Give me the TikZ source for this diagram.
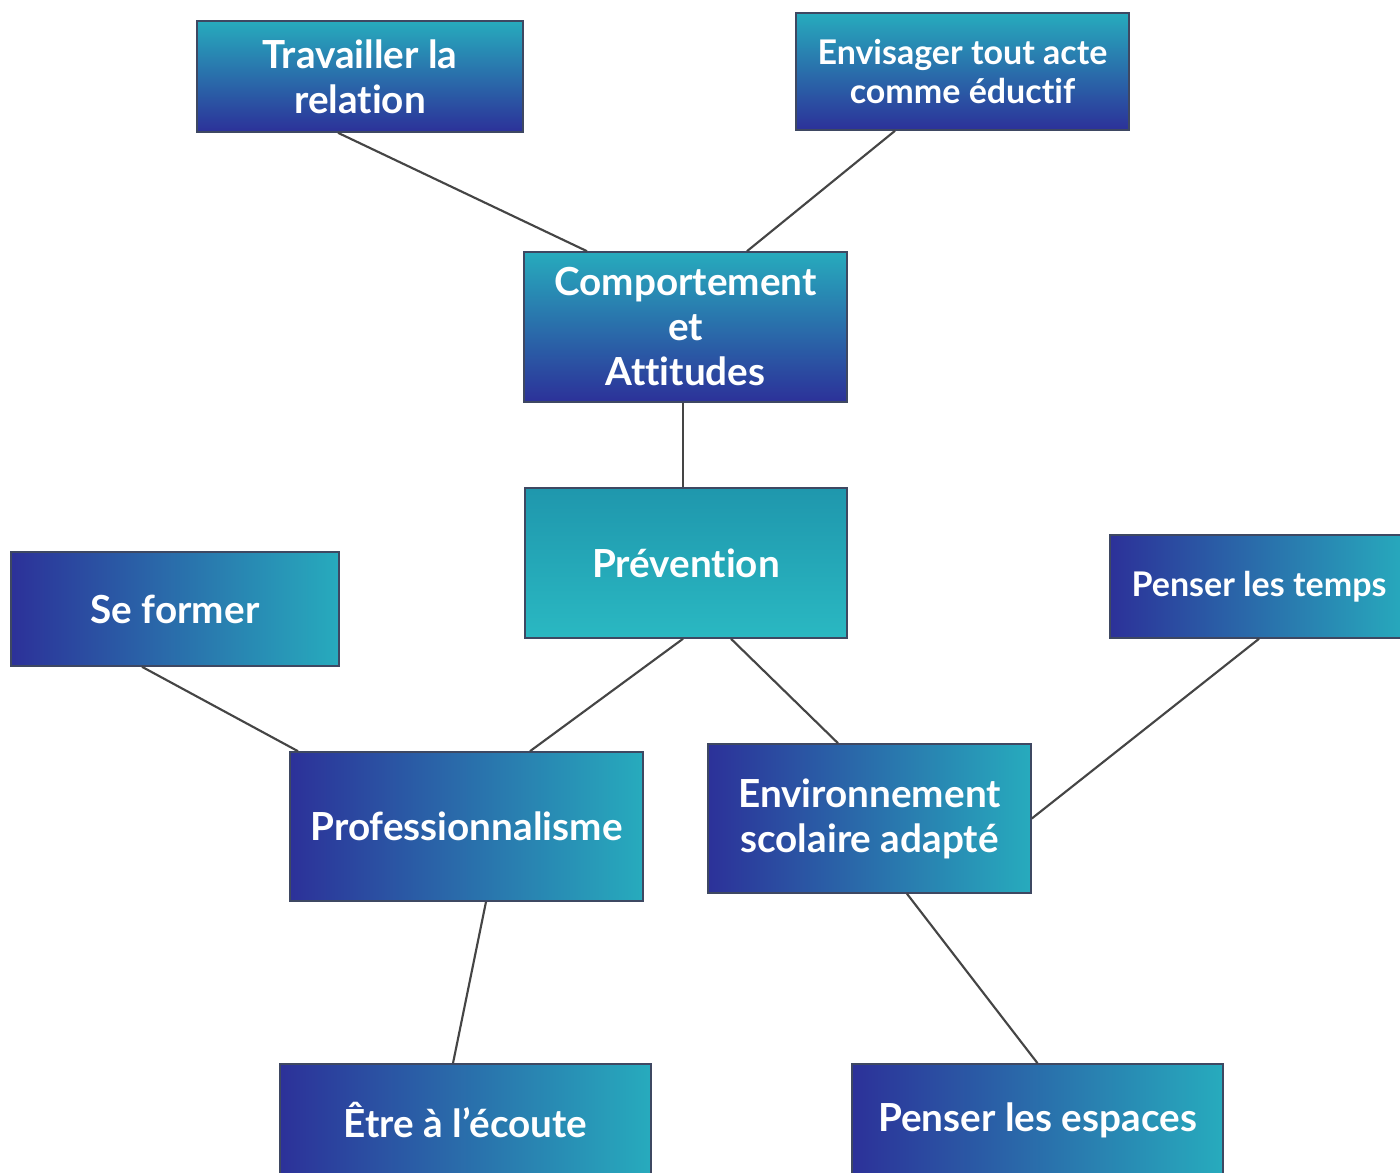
\documentclass[tikz,border=0pt]{standalone}
\usepackage{fontspec}
\setmainfont{Lato}[Ligatures=NoCommon]
\usetikzlibrary{calc}

\definecolor{tealc}{HTML}{27ABBD}
\definecolor{bluec}{HTML}{2C3199}
\definecolor{prevtop}{HTML}{1F97AD}
\definecolor{prevbot}{HTML}{2AB8C2}
\definecolor{edgec}{HTML}{3E4862}
\definecolor{linkc}{HTML}{454545}

\tikzset{
  box/.style={draw=edgec, line width=1.2pt, text=white, align=center,
    font=\fontsize{29}{33.75}\selectfont\bfseries, inner sep=0pt},
  vbox/.style={box, top color=tealc, bottom color=bluec},
  hbox/.style={box, left color=bluec, right color=tealc},
  link/.style={draw=linkc, line width=1.6pt},
}

\begin{document}
\begin{tikzpicture}[x=0.75pt,y=0.75pt,yscale=-1,xscale=1]
    \clip (0,0) rectangle (1400,1173);

    % Text Node
    \node [vbox, minimum width=244.5pt, minimum height=83.25pt] (travail) at (360,76.5) {Travailler la\\relation};
    % Text Node
    \node [vbox, minimum width=249.75pt, minimum height=87.75pt, font=\fontsize{25.5}{29.25}\selectfont\bfseries] (envisager) at (962.5,71.5) {Envisager tout acte\\comme éductif};
    % Text Node
    \node [vbox, minimum width=242.25pt, minimum height=112.5pt] (comport) at (685.5,327) {Comportement\\et\\Attitudes};
    % Text Node
    \node [box, top color=prevtop, bottom color=prevbot, minimum width=241.5pt, minimum height=112.5pt] (prevention) at (686,563) {Prévention};
    % Text Node
    \node [hbox, minimum width=246pt, minimum height=85.5pt] (seformer) at (175,609) {Se former};
    % Text Node
    \node [hbox, minimum width=223.5pt, minimum height=77.25pt, font=\fontsize{25.5}{30}\selectfont\bfseries] (temps) at (1259,586.5) {Penser les temps};
    % Text Node
    \node [hbox, minimum width=264.75pt, minimum height=111.75pt] (prof) at (466.5,826.5) {Professionnalisme};
    % Text Node
    \node [hbox, minimum width=242.25pt, minimum height=111.75pt] (env) at (869.5,818.5) {Environnement\\scolaire adapté};
    % Text Node
    \node [hbox, minimum width=278.25pt, minimum height=84pt] (ecoute) at (465.5,1120) {Être à l’écoute};
    % Text Node
    \node [hbox, minimum width=278.25pt, minimum height=84pt] (espaces) at (1037.5,1120) {Penser les espaces};

    % Links
    \draw [link] ($(travail.south)+(-22,0)$) -- ($(comport.north)+(-98.5,0)$);
    \draw [link] ($(envisager.south)+(-67.5,0)$) -- ($(comport.north)+(61.5,0)$);
    \draw [link] ($(comport.south)+(-2.5,0)$) -- ($(prevention.north)+(-3,0)$);
    \draw [link] ($(prevention.south)+(-3,0)$) -- ($(prof.north)+(63.5,0)$);
    \draw [link] ($(prevention.south)+(45,0)$) -- ($(env.north)+(-31.5,0)$);
    \draw [link] ($(seformer.south)+(-33,0)$) -- ($(prof.north)+(-168.5,0)$);
    \draw [link] (temps.south) -- (env.east);
    \draw [link] ($(prof.south)+(19.5,0)$) -- ($(ecoute.north)+(-12.5,0)$);
    \draw [link] ($(env.south)+(37.5,0)$) -- (espaces.north);

\end{tikzpicture}
\end{document}
